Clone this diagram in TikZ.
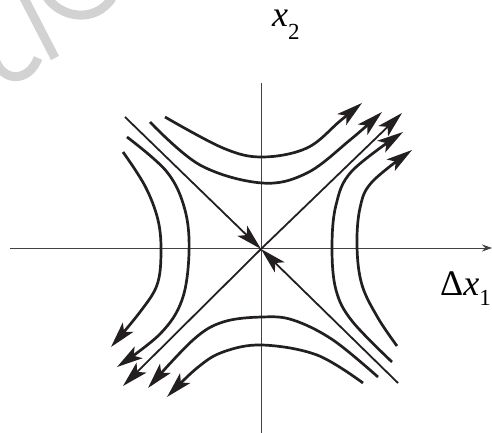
\documentclass[tikz,border=0pt]{standalone}
\usepackage{fontspec}
\setmainfont{Liberation Serif}
\usetikzlibrary{arrows.meta}
\definecolor{ink}{HTML}{231F20}
\definecolor{wm}{HTML}{D2D2D2}
\tikzset{
  axisline/.style={draw=ink!85, line width=0.8pt},
  tipbig/.tip={Stealth[length=26pt,width=14pt,inset=6pt]},
  flow/.style={draw=ink, line width=2.7pt, -tipbig},
  diag/.style={draw=ink, line width=1.8pt, -tipbig},
  lbl/.style={inner sep=0pt, font=\fontsize{36}{36}\selectfont, text=black},
  water/.style={draw=wm, line width=9pt}
}
\begin{document}
\begin{tikzpicture}[x=1pt,y=-1pt]
\useasboundingbox (0,0) rectangle (492,433);
% watermark fragment
\draw[water] (24,-2) -- (55,58);
\draw[water] (46,-4) .. controls (60,18) and (95,24) .. (112,-2);
\draw[water] (-4,62) .. controls (6,84) and (30,80) .. (38,58);
% axes
\coordinate (c) at (261,249);
\coordinate (xl) at (10,248);
\coordinate (xr) at (492,248);
\coordinate (yt) at (261,83);
\coordinate (yb) at (261,433);
\draw[axisline, -{Stealth[length=10pt,width=7pt]}] (xl) -- (xr);
\draw[axisline] (yt) -- (yb);
% labels
\node[lbl, anchor=base west] (x2) at (272,27) {\textit{x}\raisebox{-13pt}{\fontsize{23}{23}\selectfont 2}};
\node[lbl, anchor=base west] (dx1) at (440,295) {Δ\textit{x}\raisebox{-10pt}{\fontsize{23}{23}\selectfont 1}};
% diagonals (separatrices)
\coordinate (nw) at (125,117);
\coordinate (se) at (398,383);
\coordinate (ne) at (402,113);
\coordinate (sw) at (123,386);
\draw[diag] (nw) -- (c);
\draw[diag] (se) -- (c);
\draw[diag] (c) -- (ne);
\draw[diag] (c) -- (sw);
% upper curves
\draw[flow] plot[smooth, tension=0.6] coordinates {(165,117) (223,148) (262,157) (307,148) (340,121) (362,103)};
\draw[flow] plot[smooth, tension=0.6] coordinates {(150,122) (200,165) (262,183) (307,173) (350,140) (382,112)};
% right curves
\draw[flow] plot[smooth, tension=0.6] coordinates {(392,362) (352,321) (336,290) (332,248) (336,205) (352,171) (403,132)};
\draw[flow] plot[smooth, tension=0.6] coordinates {(397,346) (378,318) (362,285) (357,247) (360,208) (372,182) (412,150)};
% left curves
\draw[flow] plot[smooth, tension=0.6] coordinates {(123,152) (145,186) (158,220) (161,253) (157,285) (140,312) (111,347)};
\draw[flow] plot[smooth, tension=0.6] coordinates {(127,137) (167,172) (185,210) (189,253) (182,300) (160,334) (117,367)};
% lower curves
\draw[flow] plot[smooth, tension=0.6] coordinates {(378,377) (333,340) (293,320) (262,317) (223,322) (193,340) (148,388)};
\draw[flow] plot[smooth, tension=0.6] coordinates {(363,383) (317,355) (262,345) (223,352) (197,368) (167,397)};
\end{tikzpicture}
\end{document}
